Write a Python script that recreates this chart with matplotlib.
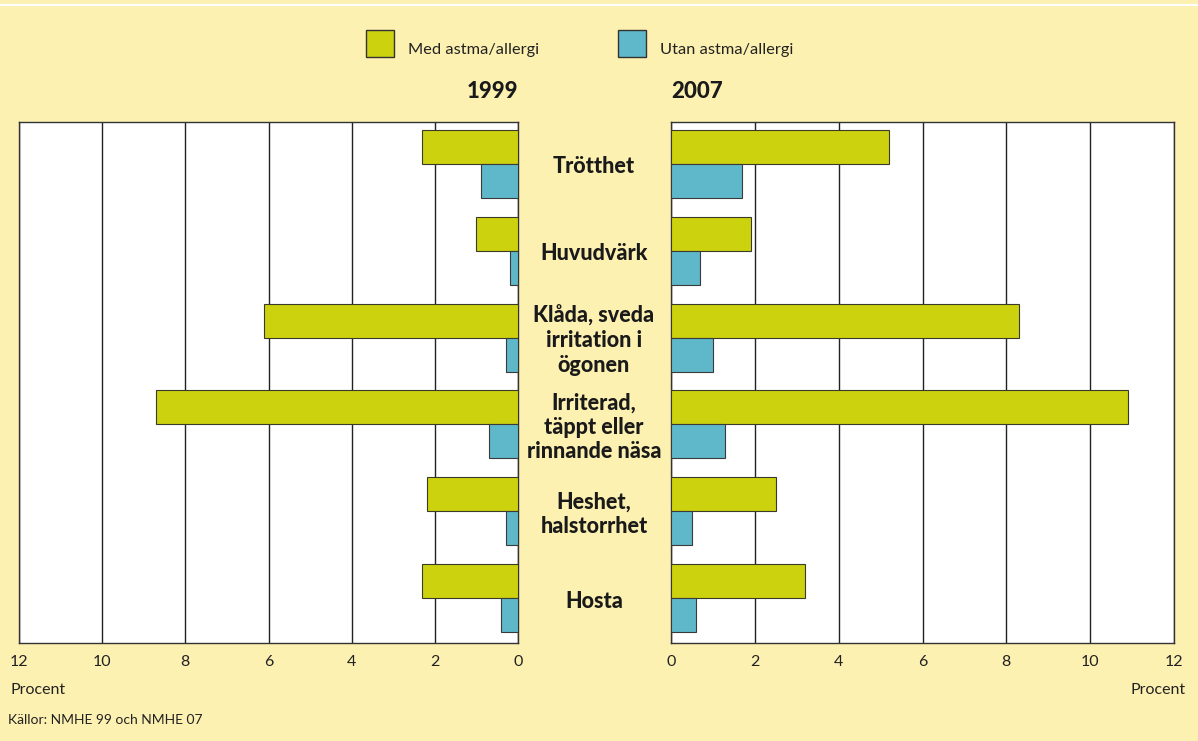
import matplotlib
matplotlib.use("Agg")
import matplotlib.pyplot as plt
import numpy as np
from matplotlib.patches import Rectangle

plt.rcParams['font.family'] = ['Lato', 'DejaVu Sans']

categories = ["Trötthet", "Huvudvärk", "Klåda, sveda\nirritation i\nögonen",
              "Irriterad,\ntäppt eller\nrinnande näsa", "Heshet,\nhalstorrhet", "Hosta"]
med_1999 = [2.3, 1.0, 6.1, 8.7, 2.2, 2.3]
utan_1999 = [0.9, 0.2, 0.3, 0.7, 0.3, 0.4]
med_2007 = [5.2, 1.9, 8.3, 10.9, 2.5, 3.2]
utan_2007 = [1.7, 0.7, 1.0, 1.3, 0.5, 0.6]
ticks = [0, 2, 4, 6, 8, 10, 12]
series_names = ["Med astma/allergi", "Utan astma/allergi"]
years = ["1999", "2007"]

BG = "#FDF1B2"
YEL = "#CDD20F"
BLU = "#5EB8C9"
W, H = 1198, 741

fig = plt.figure(figsize=(W / 100, H / 100), dpi=100, facecolor=BG)

def fx(px):
    return px / W

def fy(py):
    return 1 - py / H

top, bot = 122, 643
axL = fig.add_axes([fx(19), fy(bot), fx(518 - 19), (bot - top) / H])
axR = fig.add_axes([fx(671), fy(bot), fx(1174 - 671), (bot - top) / H])

n = len(categories)
y = np.arange(n)
h = 34 / 87
yc_med = y + (8 + 17) / 87
yc_utan = y + (8 + 34 + 17) / 87

for ax, med, utan, inv in [(axL, med_1999, utan_1999, True), (axR, med_2007, utan_2007, False)]:
    ax.set_facecolor("white")
    ax.barh(yc_med, med, height=h, color=YEL, edgecolor="#3a3a2a", linewidth=0.8, zorder=3)
    ax.barh(yc_utan, utan, height=h, color=BLU, edgecolor="#3a3a3a", linewidth=0.8, zorder=3)
    ax.set_xlim(0, 12)
    if inv:
        ax.invert_xaxis()
    ax.set_ylim(n, 0)
    ax.set_xticks(ticks)
    ax.set_xticklabels([str(t) for t in ticks], fontsize=11.5, color="#222222")
    ax.tick_params(axis='x', length=0, pad=9)
    ax.set_yticks([])
    ax.grid(axis='x', color="#222222", linewidth=1, zorder=1)
    for s in ax.spines.values():
        s.set_color("#333333")
        s.set_linewidth(1)

# category labels
for i, c in enumerate(categories):
    yy = top + (i + 0.5) * 87 + 1
    fig.text(fx(594), fy(yy), c, ha="center", va="center", fontsize=15.5,
             fontweight="black", color="#1a1a1a", linespacing=1.2)

# legend
for x0, col, name in [(366, YEL, series_names[0]), (618, BLU, series_names[1])]:
    fig.patches.append(Rectangle((fx(x0), fy(57)), fx(28), 27 / H, transform=fig.transFigure,
                                 facecolor=col, edgecolor="#333333", linewidth=1))
    fig.text(fx(x0 + 42), fy(50), name, ha="left", va="center", fontsize=11.8, color="#222222")

fig.text(fx(518), fy(91), years[0], ha="right", va="center", fontsize=16, fontweight="black", color="#1a1a1a")
fig.text(fx(671), fy(91), years[1], ha="left", va="center", fontsize=16, fontweight="black", color="#1a1a1a")

fig.text(fx(10), fy(690), "Procent", ha="left", va="center", fontsize=11.5, color="#222222")
fig.text(fx(1186), fy(690), "Procent", ha="right", va="center", fontsize=11.5, color="#222222")
fig.text(fx(8), fy(720), "Källor: NMHE 99 och NMHE 07", ha="left", va="center", fontsize=10, color="#222222")

# thin white line at top
fig.add_artist(plt.Line2D([0, 1], [fy(5), fy(5)], transform=fig.transFigure, color="white", linewidth=1.5))

fig.savefig("out.png", dpi=100, facecolor=BG)
